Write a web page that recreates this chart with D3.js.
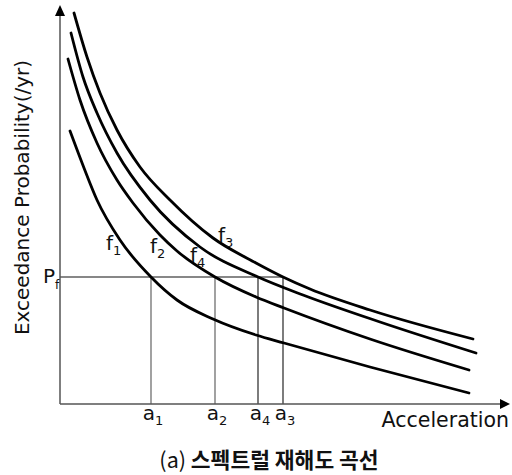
<!DOCTYPE html>
<html>
<head>
<meta charset="utf-8">
<script src="https://cdn.jsdelivr.net/npm/d3@7"></script>
<style>
  html, body { margin: 0; padding: 0; background: #fff; }
  svg { display: block; }
  text { font-family: "DejaVu Sans", sans-serif; fill: #111; }
</style>
</head>
<body>
<svg id="chart" width="512" height="475"></svg>
<script>
// ---- data (arbitrary units: acceleration vs exceedance probability) ----
const f1 = [[10,273],[24,236],[37,204],[60,164],[91,127],[117,104],[153,85],[196,69],[224,61],[310,37],[409,11]];
const f2 = [[8,345],[20,304],[37,261],[57,224],[73,201],[100,169],[117,153],[155,127],[196,107],[224,96],[310,65],[409,34]];
const f4 = [[11,371],[23,327],[37,291],[57,251],[90,204],[140,157],[198,127],[243,109],[320,82],[416,51]];
const f3 = [[14,391],[27,347],[40,311],[57,274],[80,237],[110,204],[153,166],[196,141],[223,127],[250,115],[310,94],[413,65]];
const curves = [
  {name: "f", sub: "1", data: f1, label: [46,154]},
  {name: "f", sub: "2", data: f2, label: [90,151]},
  {name: "f", sub: "4", data: f4, label: [130,142]},
  {name: "f", sub: "3", data: f3, label: [158,162]}
];
const Pf = 127;
const aValues = [91, 155, 198, 223];
const aSubs = ["1", "2", "4", "3"];
const xTitle = "Acceleration";
const yTitle = "Exceedance Probability(/yr)";
const captionPrefix = "(a) ";
const captionText = "스펙트럴 재해도 곡선";

// ---- scales ----
const x = d3.scaleLinear().domain([0, 450]).range([60, 510]);
const y = d3.scaleLinear().domain([0, 400]).range([404, 4]);

const svg = d3.select("#chart");

// reference lines
svg.append("line")
  .attr("x1", x(0)).attr("x2", x(d3.max(aValues)))
  .attr("y1", y(Pf)).attr("y2", y(Pf))
  .attr("stroke", "#111").attr("stroke-width", 1.1);
svg.selectAll("line.vref").data(aValues).enter().append("line")
  .attr("class", "vref")
  .attr("x1", d => x(d)).attr("x2", d => x(d))
  .attr("y1", y(0)).attr("y2", y(Pf))
  .attr("stroke", (d, i) => i < 2 ? "#555" : "#111").attr("stroke-width", 1.1);

// axes
svg.append("line").attr("x1", x(0)).attr("x2", x(440)).attr("y1", y(0)).attr("y2", y(0))
  .attr("stroke", "#555").attr("stroke-width", 1.5);
svg.append("line").attr("x1", x(0)).attr("x2", x(0)).attr("y1", y(0)).attr("y2", y(388))
  .attr("stroke", "#555").attr("stroke-width", 1.5);
// arrowheads
svg.append("path")
  .attr("d", `M${x(450)},${y(0)} L${x(440)},${y(0)-5} L${x(440)},${y(0)+5} Z`)
  .attr("fill", "#000");
svg.append("path")
  .attr("d", `M${x(0)},${y(399)} L${x(0)-5},${y(388)} L${x(0)+5},${y(388)} Z`)
  .attr("fill", "#000");

// curves
const line = d3.line().x(d => x(d[0])).y(d => y(d[1])).curve(d3.curveMonotoneX);
svg.selectAll("path.curve").data(curves).enter().append("path")
  .attr("class", "curve")
  .attr("d", d => line(d.data))
  .attr("fill", "none").attr("stroke", "#000").attr("stroke-width", 2.8)
  .attr("stroke-linecap", "round");

// curve labels
curves.forEach(c => {
  const t = svg.append("text")
    .attr("x", x(c.label[0])).attr("y", y(c.label[1]))
    .attr("font-size", 20);
  t.append("tspan").text(c.name);
  t.append("tspan").attr("font-size", 13).attr("dy", 5).text(c.sub);
});

// a labels
aValues.forEach((v, i) => {
  const t = svg.append("text")
    .attr("x", x(v) + 2).attr("y", y(0) + 16)
    .attr("text-anchor", "middle")
    .attr("font-size", 20);
  t.append("tspan").text("a");
  t.append("tspan").attr("font-size", 13).attr("dy", 5).text(aSubs[i]);
});

// Pf label
{
  const t = svg.append("text")
    .attr("x", x(0) - 17).attr("y", y(Pf) + 6)
    .attr("font-size", 20);
  t.append("tspan").text("P");
  t.append("tspan").attr("font-size", 12).attr("dy", 6).text("f");
}

// axis titles
svg.append("text")
  .attr("x", 509).attr("y", 427)
  .attr("text-anchor", "end")
  .attr("font-size", 20.5)
  .text(xTitle);
svg.append("text")
  .attr("transform", "translate(29,197.5) rotate(-90)")
  .attr("text-anchor", "middle")
  .attr("font-size", 20)
  .text(yTitle);

// caption
{
  const t = svg.append("text")
    .attr("x", 269).attr("y", 468)
    .attr("text-anchor", "middle")
    .attr("font-size", 21.5)
    .style("font-family", "'Noto Sans CJK KR', 'Noto Sans', sans-serif");
  t.append("tspan").attr("font-weight", 400).text(captionPrefix);
  t.append("tspan").attr("font-weight", 700).text(captionText);
}
</script>
</body>
</html>
